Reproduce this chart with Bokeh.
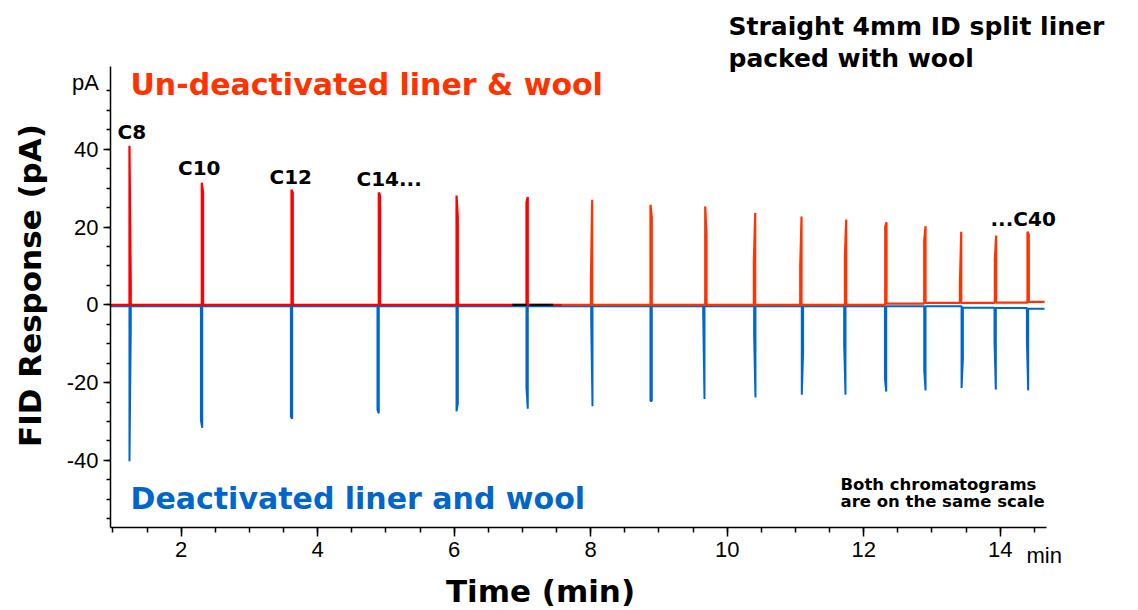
import math
from bokeh.plotting import figure
from bokeh.models import Range1d, FixedTicker, Label
from bokeh.embed import file_html
from bokeh.resources import INLINE

# ---------------- data ----------------
trace_start = 0.97          # min
trace_end = 14.65           # min

# Un-deactivated liner & wool (upper, red/orange trace)
red_peak_time = [1.242, 2.302, 3.616, 4.895, 6.034, 7.078, 8.022, 8.876, 9.678,
                 10.410, 11.089, 11.744, 12.334, 12.906, 13.429, 13.941, 14.400]
red_peak_height = [40.9, 31.4, 29.6, 28.9, 28.1, 27.7, 27.0, 25.7, 25.3,
                   23.6, 22.7, 21.9, 21.2, 20.2, 18.8, 17.8, 18.8]
red_shoulder_height = [5.7, 28.9, 28.9, 28.1, 22.5, 26.4, 6.2, 22.5, 17.8,
                       11.2, 9.9, 12.9, 20.1, 16.5, 5.4, 11.8, 18.0]
red_shoulder_side = [1, 1, 1, 1, 1, -1, -1, 1, 1,
                     -1, -1, -1, -1, -1, -1, -1, 1]
red_baseline_after = [0, 0, 0, 0, 0, 0, 0, 0, 0,
                      0, 0, 0, 0.3, 0.5, 0.5, 0.55, 0.75]
red_baseline_start = 0.0
red_color_change_time = 7.58      # colour of the scanned trace changes here
black_baseline_start = [6.85, 7.10]
black_baseline_end = [7.06, 7.45]

# Deactivated liner and wool (lower, blue trace)
blue_peak_time = [1.242, 2.308, 3.626, 4.895, 6.034, 7.078, 8.026, 8.876, 9.667,
                  10.414, 11.093, 11.733, 12.330, 12.906, 13.434, 13.936, 14.410]
blue_peak_height = [-40.2, -31.6, -29.3, -27.9, -27.4, -26.7, -26.1, -24.7, -24.2,
                    -23.8, -23.1, -23.1, -22.3, -22.0, -21.4, -21.8, -22.0]
blue_shoulder_height = [-6.4, -29.7, -28.7, -27.0, -25.4, -21.4, -3.8, -24.7, -2.2,
                        -8.1, -12.2, -10.2, -19.0, -16.9, -13.9, -9.6, -9.2]
blue_shoulder_side = [1, -1, -1, -1, 1, -1, -1, 1, -1,
                      -1, 1, -1, -1, -1, 1, -1, -1]
blue_baseline_after = [-0.35] * 14 + [-0.75, -0.8, -1.0]
blue_baseline_start = -0.35

x_major_ticks = [2, 4, 6, 8, 10, 12, 14]
x_minor_ticks = [1.0 + 0.5 * i for i in range(28)]
y_major_ticks = [-40, -20, 0, 20, 40]
y_minor_ticks = [-55 + 5 * i for i in range(23)]
y_tick_text = {-40: "-40", -20: "-20", 0: "0", 20: "20", 40: "40"}

# ---------------- build traces ----------------
DW = 0.019  # spacing of a spike and its shoulder (min)


def build_trace(base0, times, heights, shoulders, sides, base_after):
    xs, ys = [trace_start], [base0]
    base = base0
    for t, h, s, d, ba in zip(times, heights, shoulders, sides, base_after):
        if d < 0:
            xs += [t - DW, t - DW, t, t]
            ys += [base, s, h, ba]
        else:
            xs += [t, t, t + DW, t + DW]
            ys += [base, h, s, ba]
        base = ba
    xs.append(trace_end)
    ys.append(base)
    return xs, ys


rx, ry = build_trace(red_baseline_start, red_peak_time, red_peak_height,
                     red_shoulder_height, red_shoulder_side, red_baseline_after)
bx, by = build_trace(blue_baseline_start, blue_peak_time, blue_peak_height,
                     blue_shoulder_height, blue_shoulder_side, blue_baseline_after)

r1x, r1y, r2x, r2y = [], [], [], []
for x, y in zip(rx, ry):
    if x <= red_color_change_time:
        r1x.append(x); r1y.append(y)
    else:
        r2x.append(x); r2y.append(y)
r1x.append(red_color_change_time); r1y.append(r1y[-1])
r2x.insert(0, red_color_change_time); r2y.insert(0, r1y[-1])

# ---------------- geometry ----------------
W, H = 1138, 610
AX_L, AX_R, AX_T, AX_B = 110, 1046, 66, 527     # axis box in canvas px
PX_PER_MIN = 68.25
PX_PER_PA = 3.89
X_REF_PX, X_REF_T = 180.7, 2.0
Y_ZERO_PX = 304.3


def t_at(px):
    return X_REF_T + (px - X_REF_PX) / PX_PER_MIN


def v_at(py):
    return (Y_ZERO_PX - py) / PX_PER_PA


p = figure(width=W, height=H, output_backend="svg", toolbar_location=None,
           x_range=Range1d(t_at(0), t_at(W)), y_range=Range1d(v_at(H), v_at(0)),
           min_border=0, min_border_left=0, min_border_right=0,
           min_border_top=0, min_border_bottom=0)
p.title.visible = False
p.outline_line_color = None
p.grid.visible = False
p.background_fill_color = "white"
p.border_fill_color = "white"

xb = (t_at(AX_L), t_at(AX_R))
yb = (v_at(AX_B), v_at(AX_T))

for ax in (p.xaxis[0], p.yaxis[0]):
    ax.axis_line_color = "black"
    ax.axis_line_width = 1.5
    ax.major_tick_line_color = "black"
    ax.major_tick_line_width = 1.5
    ax.minor_tick_line_color = "black"
    ax.minor_tick_line_width = 1.5
    ax.major_tick_in = 0
    ax.minor_tick_in = 0
    ax.major_label_text_font = "Liberation Sans"
    ax.major_label_text_font_size = "22px"
    ax.major_label_text_color = "black"

p.xaxis.ticker = FixedTicker(ticks=x_major_ticks, minor_ticks=x_minor_ticks)
p.yaxis.ticker = FixedTicker(ticks=y_major_ticks, minor_ticks=y_minor_ticks)
p.xaxis.bounds = xb
p.yaxis.bounds = yb
p.xaxis.fixed_location = yb[0]
p.yaxis.fixed_location = xb[0]
p.yaxis.major_label_overrides = y_tick_text
p.xaxis.major_tick_out = 9
p.xaxis.minor_tick_out = 5
p.xaxis.major_label_standoff = 5
p.yaxis.major_tick_out = 7
p.yaxis.minor_tick_out = 4
p.yaxis.major_label_standoff = 5

# traces
p.line(bx, by, line_color="#0066cc", line_width=2)
p.line(r1x, r1y, line_color="#ff0000", line_width=2.2)
p.line(r2x, r2y, line_color="#ff3300", line_width=2.2)
p.segment(x0=black_baseline_start, x1=black_baseline_end,
          y0=[red_baseline_start] * len(black_baseline_start),
          y1=[red_baseline_start] * len(black_baseline_start),
          line_color="black", line_width=2)


def add_text(text, cx, cy, size, color="black", font="DejaVu Sans", style="bold",
             align="left", baseline="alphabetic", angle=0.0):
    p.add_layout(Label(x=cx, y=H - cy, x_units="screen", y_units="screen",
                       text=text, text_font=font, text_font_size=f"{size}px",
                       text_font_style=style, text_color=color, text_align=align,
                       text_baseline=baseline, angle=angle))


add_text("Un-deactivated liner & wool", 130, 84, 30, color="#ff3300")
add_text("Deactivated liner and wool", 130, 498, 30, color="#0066cc")
add_text("Straight 4mm ID split liner", 728, 26, 25)
add_text("packed with wool", 728, 58, 25)
add_text("Both chromatograms", 840, 484, 16.5)
add_text("are on the same scale", 840, 501, 16.5)
add_text("C8", 117, 131.5, 20)
add_text("C10", 177.5, 167, 20)
add_text("C12", 269, 176, 20)
add_text("C14...", 356, 178.7, 20)
add_text("...C40", 990, 218.7, 20)
add_text("pA", 98.5, 82, 22, font="Liberation Sans", style="normal", align="right")
add_text("min", 1026, 555, 22, font="Liberation Sans", style="normal")
add_text("Time (min)", 540, 590, 31, align="center")
add_text("FID Response (pA)", 29, 285, 31, align="center", baseline="middle",
         angle=math.pi / 2)

open("out.html", "w").write(file_html(p, INLINE))
